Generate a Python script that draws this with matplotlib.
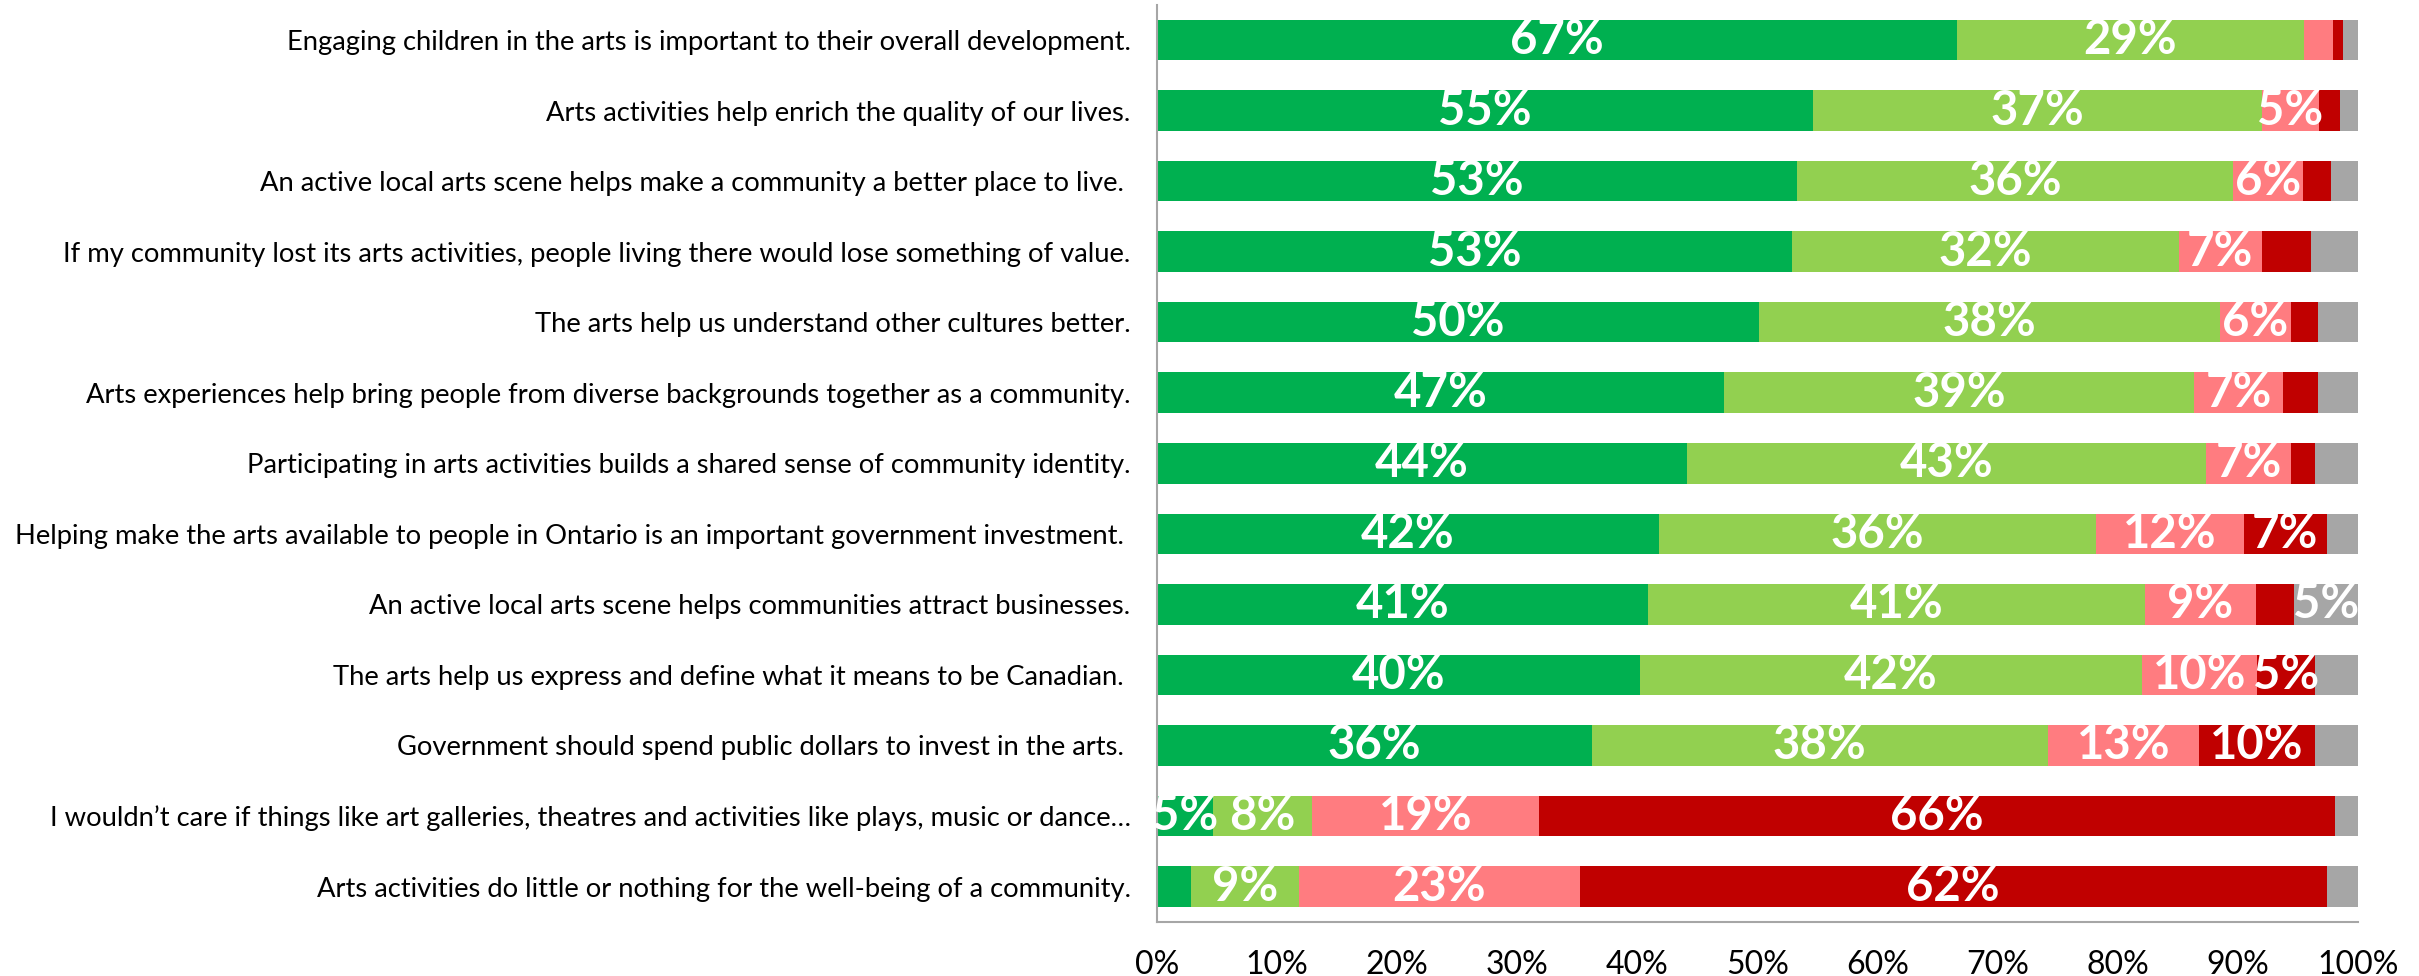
import matplotlib
matplotlib.use('Agg')
import matplotlib.pyplot as plt
import numpy as np

categories = [
    'Engaging children in the arts is important to their overall development.',
    'Arts activities help enrich the quality of our lives.',
    'An active local arts scene helps make a community a better place to live. ',
    'If my community lost its arts activities, people living there would lose something of value.',
    'The arts help us understand other cultures better.',
    'Arts experiences help bring people from diverse backgrounds together as a community.',
    'Participating in arts activities builds a shared sense of community identity.',
    'Helping make the arts available to people in Ontario is an important government investment. ',
    'An active local arts scene helps communities attract businesses.',
    'The arts help us express and define what it means to be Canadian. ',
    'Government should spend public dollars to invest in the arts. ',
    'I wouldn\u2019t care if things like art galleries, theatres and activities like plays, music or dance\u2026',
    'Arts activities do little or nothing for the well-being of a community.',
]

# percent per row: strongly agree, somewhat agree, somewhat disagree, strongly disagree, don't know
strongly_agree    = [66.6, 54.6, 53.3, 52.9, 50.1, 47.2, 44.1, 41.8, 40.9, 40.2, 36.2, 4.7, 2.8]
somewhat_agree    = [28.9, 37.4, 36.3, 32.2, 38.4, 39.2, 43.3, 36.4, 41.4, 41.8, 38.0, 8.2, 9.0]
somewhat_disagree = [2.4, 4.8, 5.8, 6.9, 5.9, 7.4, 7.0, 12.3, 9.2, 9.6, 12.6, 18.9, 23.4]
strongly_disagree = [0.9, 1.7, 2.4, 4.1, 2.3, 2.9, 2.0, 6.9, 3.2, 4.8, 9.6, 66.3, 62.2]
dont_know         = [1.2, 1.5, 2.2, 3.9, 3.3, 3.3, 3.6, 2.6, 5.3, 3.6, 3.6, 1.9, 2.6]

series = [strongly_agree, somewhat_agree, somewhat_disagree, strongly_disagree, dont_know]
colors = ['#00B050', '#92D050', '#FF7C80', '#C00000', '#A6A6A6']

label_font = ['Lato', 'DejaVu Sans']

fig = plt.figure(figsize=(24.19, 9.76), dpi=100)
ax = fig.add_axes([0.4783, 0.0555, 0.4964, 0.9397])

y = np.arange(len(categories))
left = np.zeros(len(categories))
for vals, col in zip(series, colors):
    vals = np.array(vals)
    ax.barh(y, vals, left=left, height=0.575, color=col, edgecolor='none')
    for yi, l, v in zip(y, left, vals):
        if round(v) >= 5:
            ax.text(l + v / 2, yi, '%d%%' % round(v), ha='center', va='center',
                    color='white', fontsize=34, fontweight='bold', family=label_font)
    left += vals

ax.set_xlim(0, 100)
ax.set_ylim(len(categories) - 0.5, -0.5)
ax.set_yticks(y)
ax.set_yticklabels(categories, family=label_font, fontsize=19.7)
ax.set_xticks(np.arange(0, 101, 10))
ax.set_xticklabels(['%d%%' % t for t in range(0, 101, 10)], family=label_font, fontsize=23)
ax.tick_params(axis='both', length=0)
ax.tick_params(axis='y', pad=19)
ax.tick_params(axis='x', pad=20)
for s in ['top', 'right']:
    ax.spines[s].set_visible(False)
for s in ['left', 'bottom']:
    ax.spines[s].set_color('#A6A6A6')
    ax.spines[s].set_linewidth(1.5)

fig.savefig('out.png', dpi=100)
